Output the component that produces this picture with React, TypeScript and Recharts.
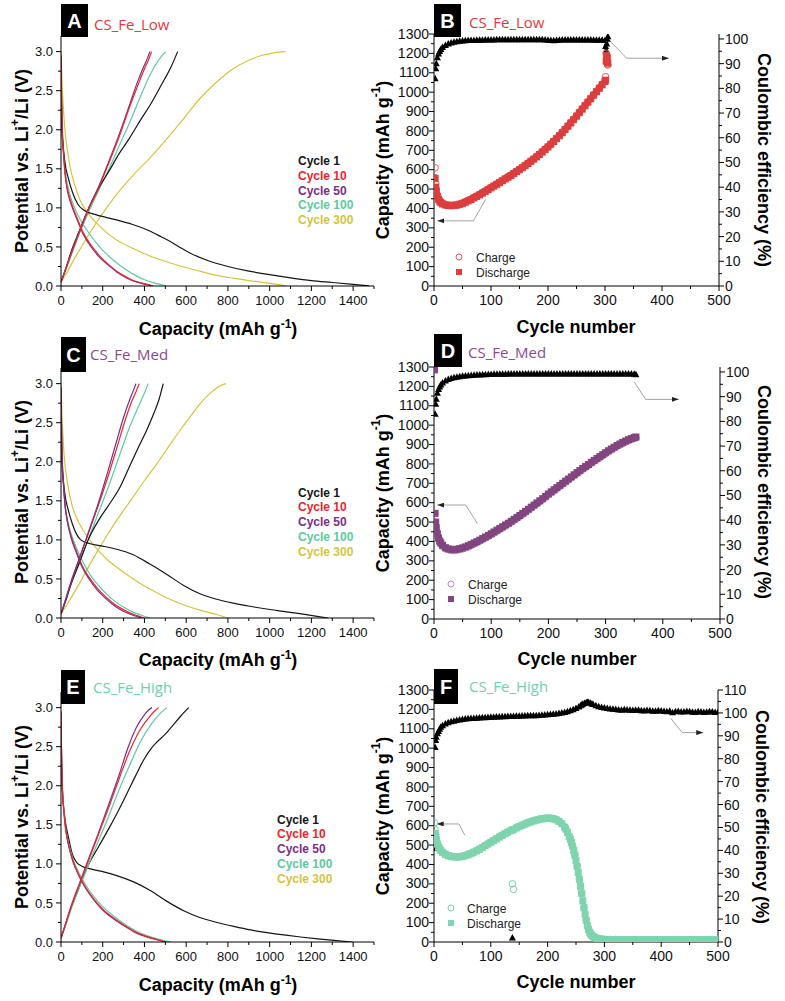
import React from 'react';
import { LineChart, Line, ScatterChart, Scatter, XAxis, YAxis, ReferenceLine } from 'recharts';

type Pt = [number, number];
const FONT = '"Liberation Sans", Arial, Helvetica, sans-serif';
const NAME_FONT = '"Open Sans", "Noto Sans", sans-serif';

const BLACK = '#151515';
const RED = '#e8262c';
const PURPLE = '#7d2e87';
const GREEN = '#5ec99e';
const YELLOW = '#d3c43e';

// ---------- tick values ----------
const capacityTicks = [0, 100, 200, 300, 400, 500, 600, 700, 800, 900, 1000, 1100, 1200, 1300, 1400, 1500];
const potentialTicks = [0, 0.25, 0.5, 0.75, 1, 1.25, 1.5, 1.75, 2, 2.25, 2.5, 2.75, 3];
const cycleTicks = [0, 50, 100, 150, 200, 250, 300, 350, 400, 450, 500];
const specCapTicks = [0, 50, 100, 150, 200, 250, 300, 350, 400, 450, 500, 550, 600, 650, 700, 750, 800, 850, 900, 950, 1000, 1050, 1100, 1150, 1200, 1250, 1300];
const ceTicks = [0, 5, 10, 15, 20, 25, 30, 35, 40, 45, 50, 55, 60, 65, 70, 75, 80, 85, 90, 95, 100];
const ceTicksHigh = [0, 5, 10, 15, 20, 25, 30, 35, 40, 45, 50, 55, 60, 65, 70, 75, 80, 85, 90, 95, 100, 105, 110];

// ---------- Panel A: CS_Fe_Low voltage profiles [capacity, potential] ----------
const lowC1Dis: Pt[] = [[0,2.9],[3,2.3],[8,1.9],[18,1.6],[35,1.38],[55,1.2],[80,1.05],[110,0.97],[170,0.91],[260,0.85],[340,0.79],[420,0.71],[480,0.63],[530,0.56],[580,0.48],[620,0.42],[700,0.33],[800,0.25],[900,0.19],[1000,0.145],[1100,0.105],[1200,0.07],[1300,0.045],[1400,0.02],[1477,0]];
const lowC1Chg: Pt[] = [[0,0.05],[20,0.2],[50,0.45],[90,0.72],[130,0.98],[180,1.25],[230,1.47],[280,1.7],[330,1.9],[380,2.12],[430,2.33],[480,2.57],[530,2.82],[559,3.0]];
const lowC10Chg: Pt[] = [[0,0.05],[20,0.2],[50,0.42],[90,0.7],[130,0.97],[180,1.25],[230,1.58],[280,1.92],[330,2.3],[370,2.58],[400,2.78],[420,2.9],[434,3.0]];
const lowC50Chg: Pt[] = [[0,0.05],[20,0.2],[50,0.43],[90,0.71],[130,0.98],[180,1.27],[230,1.6],[280,1.95],[330,2.33],[365,2.6],[395,2.8],[415,2.92],[426,3.0]];
const lowC100Chg: Pt[] = [[0,0.05],[20,0.18],[50,0.4],[90,0.68],[130,0.93],[180,1.22],[230,1.5],[280,1.8],[330,2.1],[380,2.42],[430,2.72],[470,2.9],[501,3.0]];
const lowC300Chg: Pt[] = [[0,0.05],[30,0.18],[60,0.33],[107,0.54],[150,0.73],[187,0.88],[260,1.15],[346,1.42],[430,1.65],[506,1.88],[590,2.15],[666,2.4],[750,2.62],[825,2.78],[900,2.89],[960,2.95],[1020,2.985],[1076,3.0]];
const lowC10Dis: Pt[] = [[0,2.95],[2,2.5],[5,2.0],[12,1.7],[19,1.45],[30,1.25],[51,1.05],[80,0.85],[107,0.68],[150,0.5],[187,0.38],[230,0.27],[267,0.19],[310,0.12],[346,0.07],[400,0.03],[442,0]];
const lowC50Dis: Pt[] = [[0,2.95],[2,2.5],[5,2.0],[12,1.7],[19,1.45],[30,1.23],[51,1.03],[80,0.83],[107,0.66],[150,0.48],[187,0.36],[230,0.26],[267,0.18],[310,0.11],[346,0.065],[400,0.025],[440,0]];
const lowC100Dis: Pt[] = [[0,2.95],[2,2.5],[6,2.0],[14,1.7],[22,1.45],[35,1.25],[58,1.05],[90,0.86],[123,0.72],[170,0.55],[210,0.43],[260,0.31],[310,0.21],[360,0.13],[410,0.07],[460,0.03],[506,0]];
const lowC300Dis: Pt[] = [[0,3.0],[5,2.6],[12,2.25],[19,2.0],[30,1.75],[43,1.53],[65,1.3],[91,1.1],[130,0.93],[187,0.76],[260,0.6],[346,0.48],[420,0.39],[506,0.31],[580,0.25],[666,0.19],[740,0.14],[825,0.1],[900,0.07],[985,0.04],[1081,0]];

// ---------- Panel C: CS_Fe_Med ----------
const medC1Dis: Pt[] = [[0,2.9],[3,2.3],[8,1.9],[18,1.6],[35,1.38],[55,1.2],[75,1.07],[95,1.0],[140,0.95],[200,0.92],[267,0.88],[346,0.81],[426,0.69],[506,0.56],[586,0.42],[666,0.31],[746,0.24],[826,0.19],[905,0.15],[985,0.115],[1065,0.085],[1145,0.055],[1220,0.025],[1280,0]];
const medC1Chg: Pt[] = [[0,0.05],[20,0.2],[50,0.45],[90,0.72],[130,1.0],[180,1.25],[230,1.45],[280,1.66],[330,1.95],[370,2.18],[410,2.4],[445,2.62],[470,2.8],[490,3.0]];
const medC10Chg: Pt[] = [[0,0.05],[20,0.22],[50,0.47],[90,0.77],[130,1.07],[180,1.45],[230,1.85],[270,2.2],[310,2.55],[340,2.78],[360,2.9],[375,3.0]];
const medC50Chg: Pt[] = [[0,0.05],[20,0.22],[50,0.48],[90,0.78],[130,1.09],[180,1.48],[225,1.88],[265,2.25],[300,2.57],[330,2.8],[348,2.92],[359,3.0]];
const medC100Chg: Pt[] = [[0,0.05],[20,0.2],[50,0.44],[90,0.72],[130,1.0],[180,1.35],[230,1.7],[280,2.08],[330,2.45],[370,2.7],[400,2.88],[418,3.0]];
const medC300Chg: Pt[] = [[0,0.05],[40,0.22],[90,0.45],[139,0.69],[185,0.9],[235,1.12],[290,1.34],[346,1.55],[400,1.76],[458,1.97],[515,2.19],[570,2.4],[620,2.58],[666,2.74],[700,2.84],[730,2.91],[760,2.97],[790,3.0]];
const medC10Dis: Pt[] = [[0,2.95],[2,2.5],[5,2.0],[12,1.7],[19,1.45],[30,1.25],[48,1.05],[75,0.85],[100,0.68],[140,0.5],[175,0.38],[215,0.27],[250,0.19],[290,0.12],[330,0.065],[365,0.03],[397,0]];
const medC50Dis: Pt[] = [[0,2.95],[2,2.5],[5,2.0],[12,1.7],[19,1.45],[30,1.24],[47,1.04],[73,0.84],[98,0.67],[137,0.49],[170,0.37],[210,0.26],[245,0.18],[283,0.11],[320,0.06],[355,0.025],[386,0]];
const medC100Dis: Pt[] = [[0,2.95],[2,2.5],[6,2.0],[13,1.7],[20,1.45],[32,1.25],[52,1.05],[80,0.86],[108,0.7],[148,0.52],[185,0.4],[225,0.29],[265,0.2],[305,0.13],[345,0.075],[385,0.035],[426,0]];
const medC300Dis: Pt[] = [[0,3.0],[5,2.6],[12,2.2],[19,1.97],[33,1.7],[51,1.46],[75,1.28],[107,1.12],[145,0.97],[187,0.84],[225,0.74],[267,0.65],[346,0.5],[426,0.37],[506,0.26],[586,0.17],[666,0.1],[746,0.045],[801,0]];

// ---------- Panel E: CS_Fe_High ----------
const highC1Dis: Pt[] = [[0,2.9],[3,2.3],[8,1.9],[18,1.6],[35,1.35],[55,1.12],[75,1.02],[100,0.97],[150,0.93],[200,0.9],[267,0.85],[348,0.77],[428,0.66],[508,0.52],[588,0.4],[668,0.31],[748,0.25],[828,0.2],[908,0.155],[988,0.12],[1068,0.09],[1148,0.064],[1230,0.04],[1309,0.02],[1397,0]];
const highC1Chg: Pt[] = [[0,0.05],[20,0.2],[50,0.45],[90,0.72],[130,0.98],[180,1.22],[235,1.48],[275,1.68],[316,1.9],[356,2.12],[396,2.33],[430,2.47],[460,2.56],[500,2.66],[532,2.76],[570,2.88],[612,3.0]];
const highC10Chg: Pt[] = [[0,0.05],[20,0.22],[50,0.46],[90,0.75],[130,1.03],[180,1.38],[230,1.73],[280,2.1],[330,2.45],[380,2.72],[420,2.87],[450,2.96],[468,3.0]];
const highC50Chg: Pt[] = [[0,0.05],[20,0.22],[50,0.47],[90,0.76],[130,1.05],[180,1.4],[230,1.77],[280,2.15],[320,2.48],[360,2.74],[395,2.89],[420,2.97],[436,3.0]];
const highC100Chg: Pt[] = [[0,0.05],[20,0.2],[50,0.43],[90,0.71],[130,0.98],[180,1.3],[230,1.62],[280,1.96],[330,2.27],[380,2.56],[430,2.78],[470,2.91],[508,3.0]];
const highC10Dis: Pt[] = [[0,2.95],[2,2.5],[6,2.0],[13,1.7],[22,1.45],[36,1.25],[56,1.05],[87,0.85],[118,0.7],[163,0.53],[204,0.41],[255,0.3],[305,0.21],[355,0.13],[405,0.075],[455,0.035],[508,0]];
const highC50Dis: Pt[] = [[0,2.95],[2,2.5],[6,2.0],[13,1.7],[22,1.45],[35,1.25],[55,1.05],[85,0.85],[115,0.7],[160,0.53],[200,0.41],[250,0.3],[300,0.21],[350,0.13],[400,0.075],[450,0.035],[500,0]];
const highC100Dis: Pt[] = [[0,2.95],[2,2.5],[6,2.0],[14,1.7],[23,1.45],[38,1.25],[59,1.05],[91,0.86],[123,0.71],[170,0.54],[212,0.42],[263,0.31],[315,0.21],[365,0.135],[415,0.078],[470,0.035],[527,0]];

// ---------- Panel B: CS_Fe_Low cycling [cycle, value] ----------
const lowDischarge: Pt[] = [[2,555],[3,510],[4,485],[6,462],[8,447],[10,437],[12,430],[15,423],[20,418],[25,415],[30,414],[35,415],[40,417],[45,421],[50,426],[55,432],[60,439],[65,446],[70,454],[75,462],[80,470],[85,479],[90,488],[95,497],[100,506],[105,515],[110,524],[115,533],[120,543],[125,552],[130,561],[135,570],[140,580],[145,590],[150,600],[155,610],[160,621],[165,632],[170,643],[175,654],[180,666],[185,678],[190,691],[195,704],[200,717],[205,731],[210,745],[215,760],[220,775],[225,791],[230,807],[235,824],[240,841],[245,858],[250,876],[255,894],[260,912],[265,930],[270,948],[275,966],[280,984],[285,1002],[290,1020],[295,1038],[300,1055],[301,1062],[302,1160],[303,1185],[304,1175],[305,1150]];
const lowCharge: Pt[] = [[1,560],[2,610],[3,530],[4,500],[6,470],[8,452],[10,441],[12,433],[15,426],[20,421],[25,418],[30,417],[35,418],[40,420],[45,424],[50,429],[55,435],[60,442],[65,449],[70,457],[75,465],[80,473],[85,482],[90,491],[95,500],[100,509],[105,518],[110,527],[115,536],[120,546],[125,555],[130,564],[135,573],[140,583],[145,593],[150,603],[155,613],[160,624],[165,635],[170,646],[175,657],[180,669],[185,681],[190,694],[195,707],[200,720],[205,734],[210,748],[215,763],[220,778],[225,794],[230,810],[235,827],[240,844],[245,861],[250,879],[255,897],[260,915],[265,933],[270,951],[275,969],[280,987],[285,1005],[290,1023],[295,1041],[300,1058],[301,1080],[302,1200],[303,1190],[304,1145],[305,1140]];
const lowCE: Pt[] = [[1,38],[2,84],[3,88],[4,90],[6,92.5],[8,94],[10,95],[12,95.8],[15,96.6],[20,97.4],[25,98],[30,98.4],[35,98.7],[40,98.9],[45,99.1],[50,99.2],[55,99.3],[60,99.4],[65,99.5],[70,99.5],[75,99.6],[80,99.6],[85,99.6],[90,99.7],[95,99.7],[100,99.7],[105,99.7],[110,99.8],[115,99.8],[120,99.8],[125,99.8],[130,99.8],[135,99.8],[140,99.8],[145,99.8],[150,99.8],[155,99.8],[160,99.8],[165,99.8],[170,99.8],[175,99.8],[180,99.8],[185,99.8],[190,99.8],[195,99.7],[200,99.6],[205,99.4],[210,99.3],[215,99.5],[220,99.6],[225,99.7],[230,99.7],[235,99.7],[240,99.7],[245,99.7],[250,99.7],[255,99.7],[260,99.7],[265,99.7],[270,99.7],[275,99.7],[280,99.6],[285,99.6],[290,99.6],[295,99.6],[300,99.5],[301,97],[302,95.5],[303,98],[304,100],[305,101]];

// ---------- Panel D: CS_Fe_Med cycling ----------
const medDischarge: Pt[] = [[1,1285],[2,545],[3,500],[4,470],[6,440],[8,418],[10,402],[12,392],[15,380],[20,368],[25,362],[30,359],[35,358],[40,360],[45,363],[50,367],[55,372],[60,378],[65,385],[70,392],[75,399],[80,407],[85,415],[90,423],[95,431],[100,440],[105,449],[110,458],[115,467],[120,476],[125,485],[130,494],[135,504],[140,514],[145,524],[150,534],[155,545],[160,555],[165,566],[170,577],[175,588],[180,599],[185,610],[190,621],[195,633],[200,645],[205,656],[210,667],[215,678],[220,689],[225,700],[230,711],[235,722],[240,733],[245,744],[250,755],[255,766],[260,777],[265,787],[270,797],[275,808],[280,818],[285,828],[290,838],[295,848],[300,858],[305,868],[310,877],[315,886],[320,895],[325,903],[330,911],[335,918],[340,925],[345,931],[350,936],[353,939]];
const medCharge: Pt[] = [[1,490],[2,500],[3,480],[4,455],[6,430],[8,410],[10,395],[12,386],[15,375],[20,363],[25,357],[30,354],[35,353],[40,355],[45,358],[50,362],[55,367],[60,373],[65,380],[70,387],[75,394],[80,402],[85,410],[90,418],[95,426],[100,435],[105,444],[110,453],[115,462],[120,471],[125,480],[130,489],[135,499],[140,509],[145,519],[150,529],[155,540],[160,550],[165,561],[170,572],[175,583],[180,594],[185,605],[190,616],[195,628],[200,640],[205,651],[210,662],[215,673],[220,684],[225,695],[230,706],[235,717],[240,728],[245,739],[250,750],[255,761],[260,772],[265,782],[270,792],[275,803],[280,813],[285,823],[290,833],[295,843],[300,853],[305,863],[310,872],[315,881],[320,890],[325,898],[330,906],[335,913],[340,920],[345,926],[350,931],[353,934]];
const medCE: Pt[] = [[1,38.5],[2,83],[3,87],[4,89],[6,91.5],[8,93],[10,94],[12,94.8],[15,95.6],[20,96.4],[25,97],[30,97.4],[35,97.7],[40,97.9],[45,98.1],[50,98.3],[55,98.4],[60,98.5],[65,98.6],[70,98.7],[75,98.8],[80,98.8],[85,98.9],[90,98.9],[95,99],[100,99],[105,99.1],[110,99.1],[115,99.1],[120,99.1],[125,99.1],[130,99.2],[135,99.2],[140,99.2],[145,99.2],[150,99.2],[155,99.2],[160,99.2],[165,99.2],[170,99.2],[175,99.2],[180,99.2],[185,99.2],[190,99.2],[195,99.2],[200,99.2],[205,99.2],[210,99.2],[215,99.2],[220,99.2],[225,99.2],[230,99.2],[235,99.2],[240,99.2],[245,99.2],[250,99.2],[255,99.2],[260,99.2],[265,99.2],[270,99.2],[275,99.2],[280,99.2],[285,99.2],[290,99.2],[295,99.2],[300,99.2],[305,99.2],[310,99.2],[315,99.2],[320,99.2],[325,99.2],[330,99.2],[335,99.2],[340,99.2],[345,99.2],[350,99.1],[353,98.9]];

// ---------- Panel F: CS_Fe_High cycling ----------
const highDischarge: Pt[] = [[2,560],[3,540],[4,525],[6,505],[8,490],[10,480],[12,472],[15,462],[20,452],[25,445],[30,441],[35,439],[40,438],[45,439],[50,441],[55,445],[60,450],[65,456],[70,463],[75,470],[80,478],[85,487],[90,496],[95,505],[100,514],[105,523],[110,532],[115,541],[120,550],[125,558],[130,566],[135,574],[138,578],[140,581],[145,588],[150,595],[155,602],[160,608],[165,614],[170,619],[175,624],[180,628],[185,632],[190,635],[195,637],[200,638],[205,638],[210,635],[215,630],[220,622],[225,610],[230,592],[232,582],[235,565],[238,545],[240,530],[242,513],[244,494],[246,472],[248,448],[250,420],[252,390],[254,358],[256,323],[258,287],[260,250],[262,213],[264,177],[266,143],[268,112],[270,85],[272,65],[274,51],[276,40],[278,33],[280,28],[283,23],[286,19],[290,16],[295,14],[300,13],[305,13],[310,12],[315,12],[320,13],[325,12],[330,12],[335,12],[340,11],[345,12],[350,12],[355,11],[360,11],[365,12],[370,12],[375,11],[380,11],[385,12],[390,12],[395,11],[400,11],[405,12],[410,12],[415,11],[420,11],[425,12],[430,11],[435,11],[440,12],[445,12],[450,11],[455,11],[460,11],[465,12],[470,12],[475,11],[480,11],[485,11],[490,11],[495,12],[500,11]];
const highCharge: Pt[] = [[1,615],[2,580],[3,555],[4,535],[6,510],[8,494],[10,483],[12,474],[15,464],[20,454],[25,447],[30,443],[35,441],[40,440],[45,441],[50,443],[55,447],[60,452],[65,458],[70,465],[75,472],[80,480],[85,489],[90,498],[95,507],[100,516],[105,525],[110,534],[115,543],[120,552],[125,560],[130,568],[135,576],[138,300],[140,272],[145,590],[150,597],[155,604],[160,610],[165,616],[170,621],[175,626],[180,630],[185,634],[190,637],[195,639],[200,640],[205,640],[210,637],[215,632],[220,624],[225,612],[230,594],[235,567],[240,532],[244,496],[248,450],[252,392],[256,325],[260,252],[264,179],[268,114],[272,67],[276,42],[280,29],[285,21],[290,17],[295,15],[300,14],[310,13],[320,13],[330,12],[340,12],[350,12],[360,12],[370,12],[380,12],[390,12],[400,12],[410,12],[420,12],[430,12],[440,12],[450,12],[460,12],[470,12],[480,12],[490,12],[500,12]];
const highCE: Pt[] = [[1,41],[2,85],[3,88],[4,89.5],[6,91],[8,92],[10,93],[12,93.8],[15,94.5],[20,95.3],[25,95.8],[30,96.2],[35,96.5],[40,96.8],[45,97],[50,97.2],[55,97.4],[60,97.5],[65,97.6],[70,97.7],[75,97.8],[80,97.9],[85,98],[90,98],[95,98.1],[100,98.2],[105,98.2],[110,98.3],[115,98.3],[120,98.4],[125,98.4],[130,98.5],[135,98.5],[138,1.8],[140,98.5],[145,98.6],[150,98.6],[155,98.7],[160,98.7],[165,98.8],[170,98.8],[175,98.9],[180,98.9],[185,99],[190,99.1],[195,99.2],[200,99.3],[205,99.4],[210,99.5],[215,99.6],[220,99.8],[225,100],[230,100.3],[235,100.6],[240,101],[245,101.5],[250,102],[255,102.7],[258,103.2],[260,103.5],[262,103.9],[265,104.2],[268,104.5],[270,104.6],[272,104.6],[275,104.3],[278,104],[280,103.8],[285,103.2],[290,102.8],[295,102.5],[300,102.2],[305,102],[310,101.8],[315,101.7],[320,101.6],[325,101.4],[330,101.3],[335,101.5],[340,101.4],[345,101.2],[350,101.1],[355,101.3],[360,101.2],[365,101],[370,100.9],[375,101.1],[380,101],[385,100.8],[390,100.8],[395,101],[400,100.9],[405,100.7],[410,100.6],[415,100.8],[420,100.2],[425,100.6],[430,100.7],[435,100.5],[440,100.5],[445,100.7],[450,100.6],[455,100.4],[460,100.3],[465,100.6],[470,100.5],[475,100.3],[480,100.4],[485,100.6],[490,100.5],[495,100.3],[500,100.3]];

// ---------- annotation arrows (data coordinates) ----------
const lowArrowCap: Pt[] = [[90.6,447],[69,336],[6,336]];
const lowArrowCE: Pt[] = [[307,99.6],[338,92.2],[412,92.2]];
const medArrowCap: Pt[] = [[75.8,493],[55.4,588],[5.8,588]];
const medArrowCE: Pt[] = [[350,96],[370,88.9],[428,88.9]];
const highArrowCap: Pt[] = [[54,552],[44,609],[4.7,609]];
const highArrowCE: Pt[] = [[417,97.6],[437,91.4],[474,91.4]];

const legendCycles: [string, string][] = [['Cycle 1', BLACK], ['Cycle 10', RED], ['Cycle 50', PURPLE], ['Cycle 100', GREEN], ['Cycle 300', YELLOW]];

// ---------- helpers ----------
const toXY = (pts: Pt[]) => pts.map(([x, y]) => ({ x, y }));
const isMultiple = (v: number, step: number) => Math.abs(v / step - Math.round(v / step)) < 1e-6;
const AX = { stroke: '#000', strokeWidth: 1 };

const bottomTick = (step: number, fs: number) => (props: any) => {
  const { x, y, payload } = props;
  const v = payload.value as number;
  const major = isMultiple(v, step);
  return (
    <g>
      <line x1={x} x2={x} y1={y} y2={y + (major ? 5 : 3)} stroke="#000" strokeWidth={1} />
      {major ? <text x={x} y={y + 19} textAnchor="middle" fontSize={fs} fontFamily={FONT} fill="#111">{String(v)}</text> : null}
    </g>
  );
};
const leftTick = (step: number, fs: number, digits: number, gap: number) => (props: any) => {
  const { x, y, payload } = props;
  const v = payload.value as number;
  const major = isMultiple(v, step);
  return (
    <g>
      <line x1={x - (major ? 5 : 3)} x2={x} y1={y} y2={y} stroke="#000" strokeWidth={1} />
      {major ? <text x={x - gap} y={y + 4.6} textAnchor="end" fontSize={fs} fontFamily={FONT} fill="#111">{v.toFixed(digits)}</text> : null}
    </g>
  );
};
const rightTick = (step: number, fs: number, gap: number) => (props: any) => {
  const { x, y, payload } = props;
  const v = payload.value as number;
  const major = isMultiple(v, step);
  return (
    <g>
      <line x1={x} x2={x + (major ? 5 : 3)} y1={y} y2={y} stroke="#000" strokeWidth={1} />
      {major ? <text x={x + gap} y={y + 5} textAnchor="start" fontSize={fs} fontFamily={FONT} fill="#111">{String(v)}</text> : null}
    </g>
  );
};

const squareShape = (fill: string) => (p: any) => <rect x={p.cx - 3.5} y={p.cy - 3.5} width={7} height={7} fill={fill} />;
const circleShape = (stroke: string) => (p: any) => <circle cx={p.cx} cy={p.cy} r={3.3} fill="none" stroke={stroke} strokeWidth={1} />;
const triShape = (p: any) => <path d={`M${p.cx},${p.cy - 3.8} L${p.cx + 3.5},${p.cy + 2.7} L${p.cx - 3.5},${p.cy + 2.7} Z`} fill="#000" />;

const arrowSegments = (pts: Pt[], axisId: string, key: string) =>
  pts.slice(1).map((p, i) => (
    <ReferenceLine
      key={`${key}${i}`}
      yAxisId={axisId}
      segment={[{ x: pts[i][0], y: pts[i][1] }, { x: p[0], y: p[1] }]}
      ifOverflow="visible"
      shape={(s: any) => (
        <line x1={s.x1} y1={s.y1} x2={s.x2} y2={s.y2} stroke="#8a8a8a" strokeWidth={0.8}
          markerEnd={i === pts.length - 2 ? 'url(#arrowHead)' : undefined} />
      )}
    />
  ));

type Curve = { pts: Pt[]; color: string };

function curveChart(top: number, height: number, marginTop: number, curves: Curve[]) {
  return (
    <div style={{ position: 'absolute', left: 0, top }}>
      <LineChart width={390} height={height} margin={{ top: marginTop, right: 16, bottom: 0, left: 0 }}>
        <XAxis type="number" dataKey="x" domain={[0, 1500]} ticks={capacityTicks} interval={0} tickSize={0} tickMargin={0}
          tickLine={false} tick={bottomTick(200, 13)} axisLine={AX} height={height - marginTop - 250} allowDataOverflow />
        <YAxis type="number" dataKey="y" domain={[0, 3.2]} ticks={potentialTicks} interval={0} tickSize={0} tickMargin={0}
          tickLine={false} tick={leftTick(0.5, 13, 1, 8)} axisLine={AX} width={61} allowDataOverflow />
        {curves.map((c, i) => (
          <Line key={i} data={toXY(c.pts)} dataKey="y" type="monotone" stroke={c.color} strokeWidth={1.2}
            dot={false} activeDot={false} isAnimationActive={false} />
        ))}
      </LineChart>
    </div>
  );
}

function cycleChart(top: number, height: number, marginTop: number, rightW: number, ceMax: number, ceT: number[],
  discharge: Pt[], charge: Pt[], ce: Pt[], fill: string, ring: string, arrowCap: Pt[], arrowCE: Pt[]) {
  return (
    <div style={{ position: 'absolute', left: 390, top }}>
      <ScatterChart width={395} height={height} margin={{ top: marginTop, right: 0, bottom: 0, left: 0 }}>
        <XAxis type="number" dataKey="x" domain={[0, 500]} ticks={cycleTicks} interval={0} tickSize={0} tickMargin={0}
          tickLine={false} tick={bottomTick(100, 14)} axisLine={AX} height={height - marginTop - 252} allowDataOverflow />
        <YAxis yAxisId="left" type="number" dataKey="y" domain={[0, 1300]} ticks={specCapTicks} interval={0} tickSize={0}
          tickMargin={0} tickLine={false} tick={leftTick(100, 14, 0, 5)} axisLine={AX} width={44} allowDataOverflow />
        <YAxis yAxisId="right" orientation="right" type="number" dataKey="y" domain={[0, ceMax]} ticks={ceT} interval={0}
          tickSize={0} tickMargin={0} tickLine={false} tick={rightTick(10, 14, 6)} axisLine={AX} width={rightW} allowDataOverflow />
        <Scatter yAxisId="right" data={toXY(ce)} shape={triShape} isAnimationActive={false} />
        <Scatter yAxisId="left" data={toXY(charge)} shape={circleShape(ring)} isAnimationActive={false} />
        <Scatter yAxisId="left" data={toXY(discharge)} shape={squareShape(fill)} isAnimationActive={false} />
        {arrowSegments(arrowCap, 'left', 'cap')}
        {arrowSegments(arrowCE, 'right', 'ce')}
      </ScatterChart>
    </div>
  );
}

function YTitle({ x, y, children, rot = -90 }: { x: number; y: number; children: React.ReactNode; rot?: number }) {
  return (
    <text transform={`translate(${x},${y}) rotate(${rot})`} textAnchor="middle" dominantBaseline="central"
      fontFamily={FONT} fontWeight="bold" fontSize={18} fill="#000">{children}</text>
  );
}

const potTitle = (x: number, y: number) => (
  <YTitle x={x} y={y}>Potential vs. Li<tspan dy={-7} fontSize={12}>+</tspan><tspan dy={7}>/Li (V)</tspan></YTitle>
);
const capTitleV = (x: number, y: number) => (
  <YTitle x={x} y={y}>Capacity (mAh g<tspan dy={-7} fontSize={12}>-1</tspan><tspan dy={7}>)</tspan></YTitle>
);
const ceTitle = (x: number, y: number) => <YTitle x={x} y={y} rot={90}>Coulombic efficiency (%)</YTitle>;
const capTitleH = (x: number, y: number) => (
  <text x={x} y={y} textAnchor="middle" fontFamily={FONT} fontWeight="bold" fontSize={18} fill="#000">
    Capacity (mAh g<tspan dy={-7} fontSize={12}>-1</tspan><tspan dy={7}>)</tspan>
  </text>
);
const cycTitle = (x: number, y: number) => (
  <text x={x} y={y} textAnchor="middle" fontFamily={FONT} fontWeight="bold" fontSize={18} fill="#000">Cycle number</text>
);

const panelTag = (x: number, y: number, w: number, h: number, letter: string, name: string, color: string, nx: number, ny: number) => (
  <g>
    <rect x={x} y={y} width={w} height={h} fill="#000" />
    <text x={x + w / 2} y={y + h / 2 + 7} textAnchor="middle" fontFamily={FONT} fontWeight="bold" fontSize={20} fill="#fff">{letter}</text>
    <text x={nx} y={ny} fontFamily={NAME_FONT} fontSize={15} fill={color}>{name}</text>
  </g>
);

const cycleLegend = (x: number, y0: number) => (
  <g>
    {legendCycles.map(([t, c], i) => (
      <text key={t} x={x} y={y0 + i * 14.8} fontFamily={FONT} fontWeight="bold" fontSize={12} fill={c}>{t}</text>
    ))}
  </g>
);

const cdLegend = (x: number, y0: number, tx: number, ring: string, fill: string) => (
  <g>
    <circle cx={x} cy={y0} r={3} fill="none" stroke={ring} strokeWidth={1} />
    <rect x={x - 3} y={y0 + 15 - 3} width={6} height={6} fill={fill} />
    <text x={tx} y={y0 + 4.5} fontFamily={FONT} fontSize={12} fill="#222">Charge</text>
    <text x={tx} y={y0 + 19.5} fontFamily={FONT} fontSize={12} fill="#222">Discharge</text>
  </g>
);

export default function App() {
  const lowCurves: Curve[] = [
    { pts: lowC300Chg, color: YELLOW }, { pts: lowC300Dis, color: YELLOW },
    { pts: lowC100Chg, color: GREEN }, { pts: lowC100Dis, color: GREEN },
    { pts: lowC1Chg, color: BLACK }, { pts: lowC1Dis, color: BLACK },
    { pts: lowC50Chg, color: PURPLE }, { pts: lowC50Dis, color: PURPLE },
    { pts: lowC10Chg, color: RED }, { pts: lowC10Dis, color: RED },
  ];
  const medCurves: Curve[] = [
    { pts: medC300Chg, color: YELLOW }, { pts: medC300Dis, color: YELLOW },
    { pts: medC100Chg, color: GREEN }, { pts: medC100Dis, color: GREEN },
    { pts: medC1Chg, color: BLACK }, { pts: medC1Dis, color: BLACK },
    { pts: medC10Chg, color: RED }, { pts: medC10Dis, color: RED },
    { pts: medC50Chg, color: PURPLE }, { pts: medC50Dis, color: PURPLE },
  ];
  const highCurves: Curve[] = [
    { pts: highC1Chg, color: BLACK }, { pts: highC1Dis, color: BLACK },
    { pts: highC100Chg, color: GREEN }, { pts: highC100Dis, color: GREEN },
    { pts: highC50Chg, color: PURPLE }, { pts: highC50Dis, color: PURPLE },
    { pts: highC10Chg, color: RED }, { pts: highC10Dis, color: RED },
  ];

  return (
    <div style={{ position: 'absolute', left: 0, top: 0, width: 785, height: 1001, background: '#fff', overflow: 'hidden' }}>
      <svg width={0} height={0} style={{ position: 'absolute' }}>
        <defs>
          <marker id="arrowHead" markerWidth={7} markerHeight={5} refX={7} refY={2.5} orient="auto" markerUnits="userSpaceOnUse">
            <path d="M0,0 L7,2.5 L0,5 Z" fill="#222" />
          </marker>
        </defs>
      </svg>

      {curveChart(0, 330, 36, lowCurves)}
      {curveChart(330, 330, 38, medCurves)}
      {curveChart(660, 341, 32, highCurves)}

      {cycleChart(0, 330, 34, 66, 102, ceTicks, lowDischarge, lowCharge, lowCE, '#dc3d3d', '#e25a5a', lowArrowCap, lowArrowCE)}
      {cycleChart(330, 330, 37, 65, 102, ceTicks, medDischarge, medCharge, medCE, '#83457f', '#b48db2', medArrowCap, medArrowCE)}
      {cycleChart(660, 341, 30, 67, 110, ceTicksHigh, highDischarge, highCharge, highCE, '#7fd4ae', '#79cfa9', highArrowCap, highArrowCE)}

      <svg width={785} height={1001} style={{ position: 'absolute', left: 0, top: 0, pointerEvents: 'none' }}>
        {potTitle(22, 161)}
        {potTitle(22, 492)}
        {potTitle(22, 817)}
        {capTitleV(383, 160)}
        {capTitleV(383, 493)}
        {capTitleV(383, 816)}
        {ceTitle(764, 160)}
        {ceTitle(764, 492)}
        {ceTitle(762, 817)}
        {capTitleH(218, 335)}
        {capTitleH(218, 666)}
        {capTitleH(218, 991)}
        {cycTitle(576, 333)}
        {cycTitle(577, 665)}
        {cycTitle(576, 988)}

        {cycleLegend(298, 165)}
        {cycleLegend(298, 496.5)}
        {cycleLegend(277, 823.5)}

        {cdLegend(459, 257, 476, '#e25a5a', '#dc3d3d')}
        {cdLegend(451, 584, 468, '#b48db2', '#83457f')}
        {cdLegend(451, 908, 467, '#79cfa9', '#7fd4ae')}

        {panelTag(61, 4, 27, 33, 'A', 'CS_Fe_Low', '#e8353a', 94, 30)}
        {panelTag(434, 4, 27, 33, 'B', 'CS_Fe_Low', '#e8353a', 469, 28)}
        {panelTag(61, 337, 25, 35, 'C', 'CS_Fe_Med', '#8b4a8b', 90, 360)}
        {panelTag(434, 334, 28, 33, 'D', 'CS_Fe_Med', '#8b4a8b', 468, 358)}
        {panelTag(61, 670, 24, 34, 'E', 'CS_Fe_High', '#6fd1a6', 93, 693)}
        {panelTag(434, 669, 24, 35, 'F', 'CS_Fe_High', '#6fd1a6', 469, 692)}
      </svg>
    </div>
  );
}
